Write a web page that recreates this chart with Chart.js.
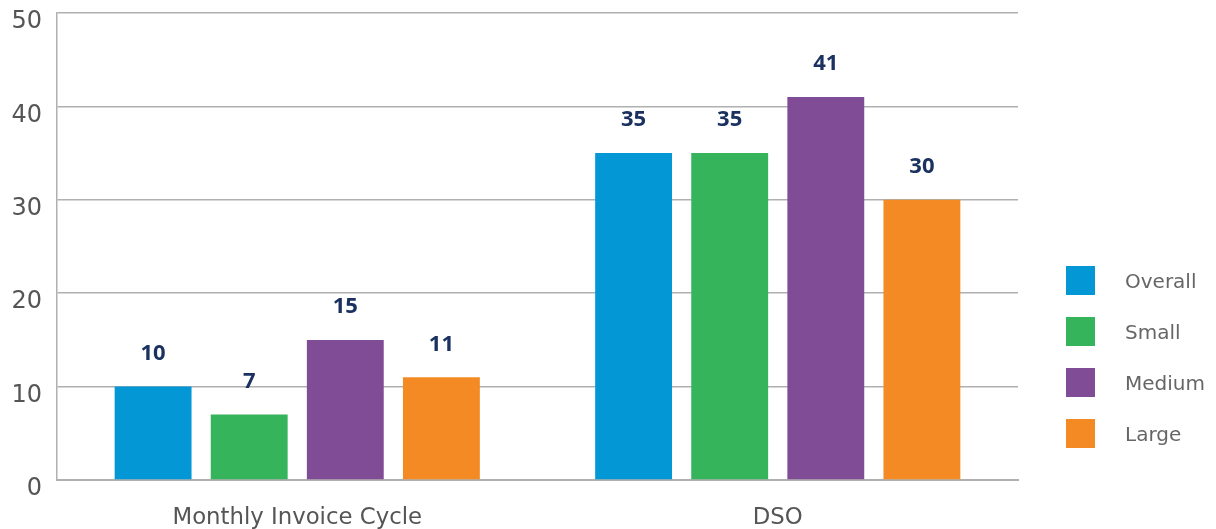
<!DOCTYPE html>
<html>
<head>
<meta charset="utf-8">
<script src="https://cdn.jsdelivr.net/npm/chart.js@4/dist/chart.umd.min.js"></script>
<style>
  html, body { margin:0; padding:0; background:#fff; }
  #wrap { position:relative; width:1216px; height:529px; }
  #legend { position:absolute; left:1066px; top:266px; font-family:"DejaVu Sans", sans-serif; font-size:20px; color:#666; }
  #legend div { height:29px; margin-bottom:22px; display:flex; align-items:center; }
  #legend span { display:inline-block; width:29px; height:29px; margin-right:30px; }
</style>
</head>
<body>
<div id="wrap">
  <canvas id="chart" width="1216" height="529"></canvas>
  <div id="legend"></div>
</div>
<script>
const categories = ['Monthly Invoice Cycle', 'DSO'];
const seriesNames = ['Overall', 'Small', 'Medium', 'Large'];
const overall = [10, 35];
const small = [7, 35];
const medium = [15, 41];
const large = [11, 30];
const yTicks = [0, 10, 20, 30, 40, 50];

const COLORS = ['#0397d6', '#35b45c', '#804c96', '#f48a23'];
const values = [overall, small, medium, large];

// numbers above the bars
const valueLabels = {
  id: 'valueLabels',
  afterDatasetsDraw(chart) {
    const ctx = chart.ctx;
    ctx.save();
    ctx.font = 'bold 22px "Open Sans", sans-serif';
    ctx.fillStyle = '#1b3261';
    ctx.textAlign = 'center';
    ctx.textBaseline = 'middle';
    chart.data.datasets.forEach((ds, i) => {
      chart.getDatasetMeta(i).data.forEach((bar, j) => {
        ctx.fillText(ds.data[j], bar.x, bar.y - 33);
      });
    });
    ctx.restore();
  }
};

new Chart(document.getElementById('chart').getContext('2d'), {
  type: 'bar',
  data: {
    labels: categories,
    datasets: seriesNames.map((n, i) => ({
      label: n, data: values[i], backgroundColor: COLORS[i],
      categoryPercentage: 0.8, barPercentage: 0.8
    }))
  },
  options: {
    responsive: false,
    animation: false,
    layout: { padding: { top: 13, right: 198, left: 0, bottom: 0 } },
    plugins: { legend: { display: false }, tooltip: { enabled: false } },
    scales: {
      x: {
        afterFit: s => { s.height = 49; },
        grid: { display: false, drawTicks: false },
        border: { display: true, color: '#b0b0b0', width: 2 },
        ticks: { padding: 24, color: '#555', font: { family: 'DejaVu Sans', size: 22.8 } }
      },
      y: {
        min: 0, max: 50,
        afterBuildTicks: s => { s.ticks = yTicks.map(v => ({ value: v })); },
        afterFit: s => { s.width = 57; s.paddingTop = 0; s.paddingBottom = 0; },
        grid: { color: '#b0b0b0', lineWidth: 1.5, drawTicks: false },
        border: { display: true, color: '#b0b0b0', width: 1.5 },
        ticks: { padding: 15, labelOffset: 9, color: '#555', font: { family: 'DejaVu Sans', size: 24 } }
      }
    }
  },
  plugins: [valueLabels]
});

const legend = document.getElementById('legend');
seriesNames.forEach((n, i) => {
  const row = document.createElement('div');
  const box = document.createElement('span');
  box.style.background = COLORS[i];
  row.appendChild(box);
  row.appendChild(document.createTextNode(n));
  legend.appendChild(row);
});
</script>
</body>
</html>
